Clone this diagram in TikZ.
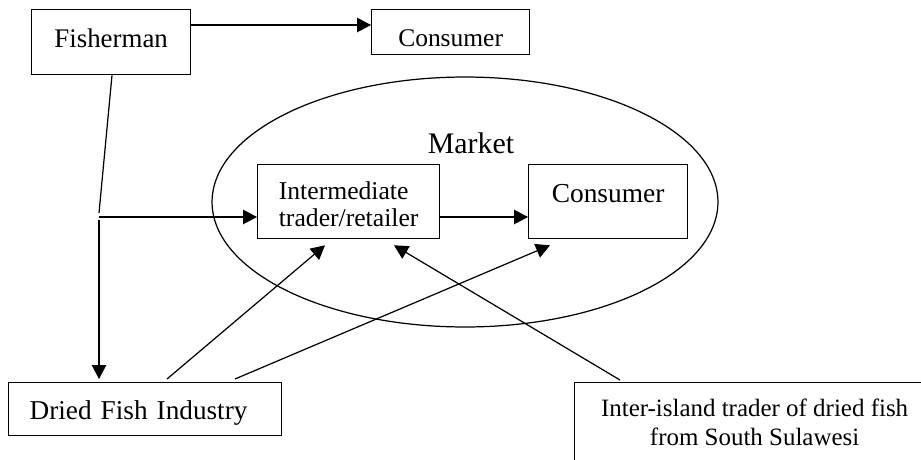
\documentclass[tikz,border=0pt]{standalone}
\usepackage{fontspec}
\setmainfont{Liberation Serif}
\usetikzlibrary{arrows.meta, calc, shapes.geometric}
\tikzset{
  box/.style={draw, line width=0.75pt, inner sep=0pt, anchor=north west},
  link/.style={line width=0.7pt},
  flow/.style={link, -{Triangle[length=0.28cm, width=0.29cm]}},
}

\begin{document}
\begin{tikzpicture}[x=0.02cm, y=-0.02cm]
  \useasboundingbox (0,0) rectangle (921,460);
  \clip (0,0) rectangle (921,460);

  % Market oval
  \node[draw, ellipse, line width=0.7pt, minimum width=10.12cm, minimum height=5cm] (marketoval) at (465,202) {};
  \node[font=\fontsize{17}{20}\selectfont] (market) at (471,143) {Market};

  % Boxes, placed by their top left corner
  \node[box, minimum width=3.18cm, text height=0.76cm, text depth=0.54cm,
        font=\fontsize{15.3}{18}\selectfont] (fisher) at (31,9) {Fisherman};
  \node[box, minimum width=3.16cm, text height=0.74cm, text depth=0.16cm,
        font=\fontsize{14.5}{17}\selectfont] (topconsumer) at (371,9) {Consumer};
  \node[box, minimum width=3.64cm, text height=1.24cm, text depth=0.24cm, align=left,
        font=\fontsize{14.6}{15.3}\selectfont] (trader) at (257,164) {Intermediate\\trader/retailer};
  \node[box, minimum width=3.18cm, text height=0.76cm, text depth=0.72cm,
        font=\fontsize{15.6}{18}\selectfont] (inconsumer) at (528,164) {Consumer};
  \node[box, inner xsep=0.42cm, text width=4.62cm, align=left, text height=0.74cm, text depth=0.32cm,
        font=\fontsize{15.5}{18}\selectfont] (dried) at (8,382) {Dried Fish Industry};
  \node[box, minimum width=7.2cm, text height=1.26cm, text depth=1.5cm, align=center,
        font=\fontsize{14.2}{16.4}\selectfont] (interisland) at (574,382)
        {Inter-island trader of dried fish\\from South Sulawesi};

  % Flows from the fisherman
  \coordinate (toprow) at (0,25);
  \coordinate (split) at (99,217);
  \draw[flow] (fisher.east |- toprow) -- (topconsumer.west |- toprow);
  \draw[link] ($(fisher.south west)+(81,0)$) -- ($(split)+(0,-4)$);
  \draw[flow] (split) -- (split -| trader.west);
  \draw[flow] ($(split)+(0,3)$) -- ($(split |- dried.north)+(0,-3)$);

  % Inside the market
  \draw[flow] (split -| trader.east) -- (split -| inconsumer.west);

  % Flows into the market
  \draw[flow] ($(dried.north west)+(159,-3)$) -- ($(trader.south west)+(68,6)$);
  \draw[flow] ($(dried.north west)+(227,-3)$) -- ($(inconsumer.south west)+(22,6)$);
  \draw[flow] ($(interisland.north west)+(46,-2)$) -- ($(trader.south west)+(137,6)$);
\end{tikzpicture}
\end{document}
